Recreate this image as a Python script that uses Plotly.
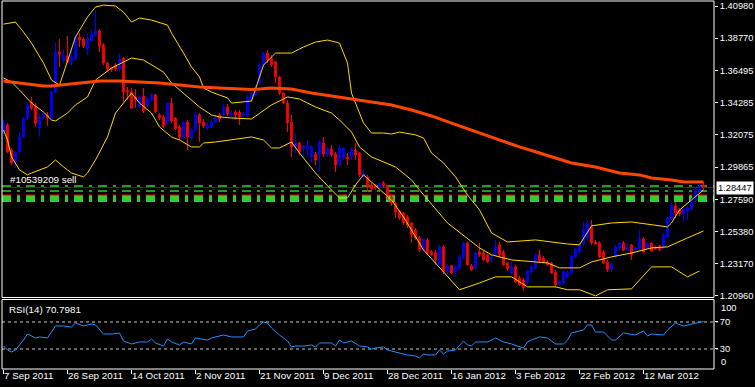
import plotly.graph_objects as go

# ---------------- data ----------------
TICK_BARS = [0, 16, 32, 48, 64, 80, 96, 112, 128, 144, 160]
TICK_LABELS = ["7 Sep 2011", "26 Sep 2011", "14 Oct 2011", "2 Nov 2011", "21 Nov 2011",
               "9 Dec 2011", "28 Dec 2011", "16 Jan 2012", "3 Feb 2012", "22 Feb 2012",
               "12 Mar 2012"]

PRICE_TICKS = [1.40980, 1.38770, 1.36495, 1.34285, 1.32075, 1.29865, 1.27590, 1.25380, 1.23170, 1.20960]
PRICE_TICK_LABELS = ["1.40980", "1.38770", "1.36495", "1.34285", "1.32075", "1.29865",
                     "1.27590", "1.25380", "1.23170", "1.20960"]

opens = [1.3228, 1.3276, 1.3104, 1.3021, 1.3090, 1.3194, 1.3325, 1.3435, 1.3401, 1.3256,
         1.3332, 1.3346, 1.3325, 1.3504, 1.3780, 1.3725, 1.3752, 1.3711, 1.3732, 1.3884,
         1.3870, 1.3801, 1.3856, 1.3898, 1.3925, 1.3829, 1.3704, 1.3670, 1.3690, 1.3663,
         1.3739, 1.3518, 1.3504, 1.3470, 1.3401, 1.3477, 1.3415, 1.3449, 1.3484, 1.3346,
         1.3332, 1.3290, 1.3428, 1.3325, 1.3263, 1.3194, 1.3297, 1.3187, 1.3242, 1.3346,
         1.3297, 1.3256, 1.3263, 1.3297, 1.3346, 1.3346, 1.3401, 1.3346, 1.3366, 1.3366,
         1.3339, 1.3346, 1.3449, 1.3484, 1.3566, 1.3690, 1.3773, 1.3739, 1.3711, 1.3608,
         1.3497, 1.3428, 1.3297, 1.3125, 1.3152, 1.3118, 1.3111, 1.3056, 1.3076, 1.3070,
         1.3152, 1.3070, 1.3111, 1.3076, 1.3000, 1.3056, 1.3056, 1.3056, 1.3104, 1.3083,
         1.2918, 1.2918, 1.2863, 1.2863, 1.2849, 1.2876, 1.2856, 1.2780, 1.2738, 1.2683,
         1.2669, 1.2642, 1.2600, 1.2552, 1.2497, 1.2414, 1.2483, 1.2400, 1.2393, 1.2311,
         1.2435, 1.2262, 1.2304, 1.2262, 1.2290, 1.2366, 1.2462, 1.2304, 1.2290, 1.2400,
         1.2393, 1.2380, 1.2345, 1.2380, 1.2449, 1.2400, 1.2324, 1.2255, 1.2297, 1.2221,
         1.2207, 1.2186, 1.2262, 1.2290, 1.2380, 1.2359, 1.2331, 1.2324, 1.2262, 1.2179,
         1.2186, 1.2228, 1.2255, 1.2366, 1.2400, 1.2455, 1.2497, 1.2573, 1.2469, 1.2462,
         1.2400, 1.2331, 1.2276, 1.2366, 1.2428, 1.2462, 1.2414, 1.2449, 1.2414, 1.2421,
         1.2490, 1.2428, 1.2462, 1.2435, 1.2442, 1.2428, 1.2504, 1.2628, 1.2718, 1.2690,
         1.2662, 1.2683, 1.2697, 1.2759, 1.2814, 1.2863]
highs = [1.3311, 1.3290, 1.3118, 1.3097, 1.3228, 1.3332, 1.3435, 1.3470, 1.3428, 1.3359,
         1.3380, 1.3366, 1.3518, 1.3849, 1.3870, 1.3794, 1.3891, 1.3794, 1.3898, 1.3911,
         1.3884, 1.3911, 1.3932, 1.4070, 1.3939, 1.3842, 1.3711, 1.3677, 1.3704, 1.3773,
         1.3746, 1.3539, 1.3532, 1.3525, 1.3484, 1.3532, 1.3470, 1.3497, 1.3490, 1.3359,
         1.3346, 1.3435, 1.3463, 1.3332, 1.3276, 1.3304, 1.3311, 1.3256, 1.3366, 1.3359,
         1.3318, 1.3297, 1.3318, 1.3346, 1.3359, 1.3421, 1.3421, 1.3380, 1.3380, 1.3380,
         1.3366, 1.3484, 1.3504, 1.3552, 1.3704, 1.3780, 1.3794, 1.3759, 1.3718, 1.3615,
         1.3504, 1.3449, 1.3346, 1.3221, 1.3159, 1.3139, 1.3173, 1.3139, 1.3090, 1.3173,
         1.3194, 1.3125, 1.3139, 1.3090, 1.3139, 1.3125, 1.3083, 1.3125, 1.3152, 1.3090,
         1.2966, 1.2932, 1.2876, 1.2870, 1.2883, 1.2890, 1.2863, 1.2794, 1.2745, 1.2690,
         1.2676, 1.2656, 1.2607, 1.2566, 1.2511, 1.2497, 1.2497, 1.2414, 1.2414, 1.2449,
         1.2449, 1.2317, 1.2311, 1.2311, 1.2380, 1.2469, 1.2469, 1.2317, 1.2400, 1.2462,
         1.2407, 1.2387, 1.2380, 1.2483, 1.2469, 1.2414, 1.2331, 1.2331, 1.2311, 1.2235,
         1.2221, 1.2276, 1.2311, 1.2393, 1.2414, 1.2373, 1.2345, 1.2331, 1.2276, 1.2207,
         1.2276, 1.2269, 1.2380, 1.2428, 1.2462, 1.2607, 1.2621, 1.2621, 1.2483, 1.2476,
         1.2414, 1.2345, 1.2331, 1.2449, 1.2469, 1.2476, 1.2462, 1.2455, 1.2435, 1.2552,
         1.2504, 1.2469, 1.2469, 1.2442, 1.2449, 1.2531, 1.2642, 1.2738, 1.2745, 1.2704,
         1.2711, 1.2718, 1.2773, 1.2842, 1.2870, 1.2883]
lows = [1.3214, 1.3083, 1.3000, 1.2980, 1.3076, 1.3187, 1.3311, 1.3380, 1.3263, 1.3194,
        1.3311, 1.3270, 1.3311, 1.3497, 1.3677, 1.3704, 1.3704, 1.3690, 1.3725, 1.3815,
        1.3808, 1.3759, 1.3849, 1.3884, 1.3780, 1.3690, 1.3642, 1.3642, 1.3649, 1.3642,
        1.3435, 1.3449, 1.3387, 1.3394, 1.3394, 1.3359, 1.3401, 1.3442, 1.3359, 1.3311,
        1.3256, 1.3276, 1.3290, 1.3242, 1.3173, 1.3173, 1.3104, 1.3173, 1.3228, 1.3159,
        1.3256, 1.3242, 1.3256, 1.3290, 1.3297, 1.3339, 1.3339, 1.3332, 1.3311, 1.3276,
        1.3325, 1.3332, 1.3435, 1.3477, 1.3552, 1.3684, 1.3704, 1.3677, 1.3566, 1.3484,
        1.3421, 1.3228, 1.3056, 1.3083, 1.3070, 1.3056, 1.3056, 1.3014, 1.3000, 1.2952,
        1.3056, 1.3056, 1.3056, 1.2952, 1.2987, 1.3035, 1.3000, 1.3035, 1.3035, 1.2918,
        1.2897, 1.2814, 1.2814, 1.2828, 1.2842, 1.2842, 1.2759, 1.2718, 1.2635, 1.2621,
        1.2586, 1.2566, 1.2462, 1.2483, 1.2400, 1.2400, 1.2380, 1.2373, 1.2311, 1.2304,
        1.2248, 1.2248, 1.2248, 1.2228, 1.2276, 1.2352, 1.2304, 1.2269, 1.2276, 1.2366,
        1.2338, 1.2324, 1.2331, 1.2373, 1.2366, 1.2304, 1.2269, 1.2242, 1.2186, 1.2166,
        1.2131, 1.2173, 1.2248, 1.2276, 1.2331, 1.2324, 1.2304, 1.2248, 1.2152, 1.2166,
        1.2173, 1.2214, 1.2242, 1.2359, 1.2387, 1.2442, 1.2483, 1.2449, 1.2449, 1.2359,
        1.2317, 1.2262, 1.2262, 1.2359, 1.2414, 1.2407, 1.2407, 1.2345, 1.2407, 1.2414,
        1.2393, 1.2421, 1.2400, 1.2414, 1.2407, 1.2421, 1.2497, 1.2621, 1.2635, 1.2649,
        1.2607, 1.2621, 1.2683, 1.2745, 1.2807, 1.2828]
closes = [1.3297, 1.3090, 1.3014, 1.3090, 1.3194, 1.3325, 1.3415, 1.3394, 1.3290, 1.3332,
          1.3352, 1.3325, 1.3504, 1.3780, 1.3766, 1.3759, 1.3711, 1.3746, 1.3884, 1.3863,
          1.3822, 1.3870, 1.3904, 1.3925, 1.3822, 1.3704, 1.3663, 1.3656, 1.3663, 1.3732,
          1.3504, 1.3504, 1.3394, 1.3449, 1.3470, 1.3373, 1.3456, 1.3484, 1.3366, 1.3325,
          1.3263, 1.3428, 1.3304, 1.3249, 1.3194, 1.3297, 1.3194, 1.3242, 1.3346, 1.3290,
          1.3270, 1.3276, 1.3297, 1.3332, 1.3318, 1.3401, 1.3352, 1.3359, 1.3346, 1.3332,
          1.3352, 1.3470, 1.3497, 1.3539, 1.3690, 1.3773, 1.3725, 1.3690, 1.3608, 1.3497,
          1.3428, 1.3290, 1.3125, 1.3152, 1.3090, 1.3132, 1.3132, 1.3125, 1.3035, 1.3159,
          1.3076, 1.3111, 1.3070, 1.3000, 1.3118, 1.3118, 1.3042, 1.3104, 1.3070, 1.2932,
          1.2939, 1.2849, 1.2835, 1.2842, 1.2876, 1.2856, 1.2780, 1.2738, 1.2676, 1.2635,
          1.2600, 1.2586, 1.2518, 1.2497, 1.2414, 1.2490, 1.2393, 1.2380, 1.2345, 1.2435,
          1.2262, 1.2304, 1.2255, 1.2297, 1.2366, 1.2462, 1.2311, 1.2276, 1.2393, 1.2380,
          1.2345, 1.2331, 1.2366, 1.2435, 1.2380, 1.2311, 1.2283, 1.2297, 1.2193, 1.2173,
          1.2152, 1.2269, 1.2297, 1.2380, 1.2338, 1.2331, 1.2311, 1.2255, 1.2173, 1.2193,
          1.2262, 1.2255, 1.2373, 1.2421, 1.2455, 1.2559, 1.2600, 1.2462, 1.2455, 1.2366,
          1.2324, 1.2276, 1.2317, 1.2435, 1.2462, 1.2414, 1.2435, 1.2380, 1.2428, 1.2490,
          1.2400, 1.2462, 1.2407, 1.2421, 1.2414, 1.2518, 1.2635, 1.2724, 1.2669, 1.2662,
          1.2697, 1.2704, 1.2759, 1.2828, 1.2856, 1.28447]

# Bollinger bands (bar index -> price)
bb_upper_bars = [0, 3, 5, 7, 10, 12, 14, 16, 18, 21, 23, 25, 28, 30, 32, 34, 37, 41, 42, 45,
                 47, 49, 50, 52, 56, 57, 62, 65, 68, 72, 75, 78, 81, 84, 86, 87, 90, 92, 95, 97,
                 99, 103, 105, 107, 110, 113, 116, 119, 122, 126, 133, 141, 144, 147, 152, 157,
                 161, 166, 167, 169, 172, 175]
bb_upper = [1.3973, 1.3987, 1.3918, 1.3842, 1.3704, 1.3587, 1.3552, 1.3725, 1.3884, 1.4022,
            1.4091, 1.4104, 1.4098, 1.4056, 1.3987, 1.4015, 1.4001, 1.3966, 1.3911, 1.3773,
            1.3677, 1.3608, 1.3532, 1.3504, 1.3463, 1.3428, 1.3442, 1.3690, 1.3773, 1.3773,
            1.3815, 1.3849, 1.3863, 1.3842, 1.3704, 1.3497, 1.3290, 1.3221, 1.3221, 1.3214,
            1.3228, 1.3208, 1.3187, 1.3083, 1.3014, 1.2918, 1.2793, 1.2690, 1.2531, 1.2469,
            1.2483, 1.2455, 1.2449, 1.2580, 1.2600, 1.2607, 1.2594, 1.2573, 1.2600, 1.2690,
            1.2759, 1.2828]
bb_mid_bars = [0, 2, 4, 7, 10, 12, 13, 16, 18, 21, 23, 27, 30, 32, 35, 37, 40, 42, 46, 49,
               52, 54, 57, 62, 67, 71, 74, 78, 82, 84, 87, 89, 92, 95, 98, 102, 104, 111, 119,
               122, 127, 136, 139, 144, 147, 152, 157, 162, 166, 171, 175]
bb_mid = [1.3601, 1.3573, 1.3518, 1.3428, 1.3366, 1.3311, 1.3304, 1.3359, 1.3415, 1.3470,
          1.3587, 1.3670, 1.3711, 1.3739, 1.3725, 1.3690, 1.3642, 1.3566, 1.3470, 1.3401,
          1.3346, 1.3332, 1.3325, 1.3318, 1.3415, 1.3470, 1.3456, 1.3401, 1.3359, 1.3311,
          1.3228, 1.3125, 1.3056, 1.3021, 1.2987, 1.2897, 1.2828, 1.2600, 1.2428, 1.2380,
          1.2345, 1.2324, 1.2290, 1.2290, 1.2331, 1.2366, 1.2393, 1.2428, 1.2435, 1.2497,
          1.2545]
bb_lower_bars = [0, 1, 2, 4, 6, 7, 11, 13, 15, 17, 20, 21, 23, 26, 28, 31, 32, 34, 37, 39,
                 42, 44, 47, 49, 50, 53, 57, 62, 65, 67, 69, 72, 74, 78, 82, 84, 86, 88, 90, 92,
                 95, 97, 100, 105, 110, 114, 119, 123, 127, 131, 138, 141, 144, 148, 151, 157,
                 162, 167, 171, 174]
bb_lower = [1.3242, 1.3173, 1.3056, 1.2966, 1.2932, 1.2945, 1.2987, 1.3035, 1.2987, 1.2945,
            1.2918, 1.2945, 1.3035, 1.3194, 1.3359, 1.3463, 1.3497, 1.3428, 1.3359, 1.3263,
            1.3194, 1.3173, 1.3125, 1.3125, 1.3152, 1.3159, 1.3173, 1.3194, 1.3173, 1.3118,
            1.3118, 1.3159, 1.3083, 1.2945, 1.2828, 1.2773, 1.2773, 1.2863, 1.2932, 1.2883,
            1.2807, 1.2759, 1.2642, 1.2414, 1.2262, 1.2139, 1.2186, 1.2228, 1.2228, 1.2159,
            1.2159, 1.2139, 1.2139, 1.2097, 1.2139, 1.2145, 1.2297, 1.2297, 1.2228, 1.2269]

# long moving average
ma_bars = [0, 4, 10, 12, 16, 19, 24, 29, 34, 39, 44, 49, 54, 62, 67, 72, 77, 82, 87, 92,
           97, 102, 107, 112, 117, 122, 129, 134, 139, 142, 148, 154, 159, 162, 167, 170, 175]
ma_vals = [1.3580, 1.3566, 1.3546, 1.3546, 1.3559, 1.3566, 1.3580, 1.3580, 1.3573, 1.3566,
           1.3552, 1.3539, 1.3532, 1.3521, 1.3532, 1.3525, 1.3497, 1.3477, 1.3456, 1.3435,
           1.3415, 1.3380, 1.3339, 1.3290, 1.3242, 1.3194, 1.3125, 1.3083, 1.3042, 1.3014,
           1.2987, 1.2945, 1.2932, 1.2911, 1.2897, 1.2883, 1.2883]

# RSI(14)
rsi_bars = [0, 1, 2, 3, 5, 6, 8, 9, 11, 13, 15, 17, 18, 20, 22, 23, 25, 27, 29, 30,
            32, 34, 36, 37, 38, 40, 41, 42, 44, 45, 47, 48, 51, 52, 55, 57, 60, 61, 63, 64,
            65, 66, 67, 69, 71, 72, 73, 75, 77, 78, 79, 80, 82, 83, 84, 85, 87, 89, 91, 92,
            93, 95, 96, 97, 99, 101, 103, 104, 105, 106, 108, 109, 110, 111, 113, 114, 115, 116, 117, 118,
            121, 123, 125, 127, 130, 131, 132, 134, 136, 138, 140, 141, 142, 144, 145, 146, 147, 148, 150, 152,
            153, 155, 157, 158, 160, 161, 162, 165, 166, 168, 170, 171, 173, 175]
rsi_vals = [34.4, 28.5, 25.6, 28.5, 43.3, 52.2, 46.3, 47.8, 46.3, 64.1, 64.1, 62.6, 68.5, 64.1, 67.0, 65.6, 52.2, 52.2, 53.7, 41.9,
            37.4, 40.4, 40.4, 44.8, 38.9, 34.4, 44.8, 40.4, 35.9, 40.4, 37.4, 46.3, 43.3, 46.3, 50.7, 47.8, 47.8, 56.7, 59.6, 65.6,
            70.0, 68.5, 61.1, 50.7, 41.9, 33.0, 34.4, 34.4, 35.9, 33.0, 38.9, 38.9, 38.9, 34.4, 43.3, 38.9, 41.9, 34.4, 33.0, 30.0,
            31.5, 33.0, 28.5, 27.0, 24.1, 21.1, 19.6, 16.7, 22.6, 21.1, 21.1, 28.5, 22.6, 27.0, 28.5, 35.9, 41.9, 35.9, 34.4, 40.4,
            40.4, 46.3, 40.4, 37.4, 31.5, 40.4, 43.3, 47.8, 46.3, 37.4, 37.4, 43.3, 53.7, 56.7, 58.1, 65.6, 65.6, 55.2, 55.2, 43.3,
            43.3, 53.7, 52.2, 50.7, 56.7, 49.3, 52.2, 50.7, 58.1, 68.5, 64.1, 65.6, 68.5, 70.7981]
RSI_LEVELS = [70, 30]

# order lines
ORDER_LABEL = "#10539209 sell"
ORDER_OPEN = 1.2769
ORDER_STOP = 1.2793
ORDER_LEVEL_A = 1.2855
ORDER_LEVEL_B = 1.2821
BID = 1.28447

# ---------------- figure ----------------
FONT = "Liberation Sans, Arial, sans-serif"
FS = 9.3
BLUE = "#0000FF"
RED = "#FF0000"
GOLD = "#FFD700"
MA_COL = "#FF4500"
GREEN = "#32CD32"

MAIN_DOM = [0.1943, 1.0]
RSI_DOM = [0.0, 0.1889]

x = list(range(len(closes)))

fig = go.Figure()
fig.add_trace(go.Candlestick(
    x=x, open=opens, high=highs, low=lows, close=closes,
    increasing=dict(line=dict(color=BLUE, width=1), fillcolor=BLUE),
    decreasing=dict(line=dict(color=RED, width=1), fillcolor=RED),
    whiskerwidth=0, xaxis="x", yaxis="y", hoverinfo="skip", showlegend=False))

for bars, vals in [(bb_upper_bars, bb_upper), (bb_mid_bars, bb_mid), (bb_lower_bars, bb_lower)]:
    fig.add_trace(go.Scatter(x=bars, y=vals, mode="lines", line=dict(color=GOLD, width=1),
                             xaxis="x", yaxis="y", hoverinfo="skip", showlegend=False))

fig.add_trace(go.Scatter(x=ma_bars, y=ma_vals, mode="lines", line=dict(color=MA_COL, width=3),
                         xaxis="x", yaxis="y", hoverinfo="skip", showlegend=False))

fig.add_trace(go.Scatter(x=rsi_bars, y=rsi_vals, mode="lines", line=dict(color="#1E90FF", width=1),
                         xaxis="x", yaxis="y2", hoverinfo="skip", showlegend=False))

DASHDOT = "9px,6px,3px,6px"
shapes = []
shapes.append(dict(type="line", xref="paper", x0=0, x1=1, yref="y", y0=ORDER_OPEN, y1=ORDER_OPEN,
                   line=dict(color=GREEN, width=7, dash=DASHDOT), layer="below"))
shapes.append(dict(type="line", xref="paper", x0=0, x1=1, yref="y", y0=ORDER_STOP, y1=ORDER_STOP,
                   line=dict(color=RED, width=1, dash=DASHDOT), layer="below"))
for lv in [ORDER_LEVEL_A, ORDER_LEVEL_B]:
    shapes.append(dict(type="line", xref="paper", x0=0, x1=1, yref="y", y0=lv, y1=lv,
                       line=dict(color=GREEN, width=1.5, dash=DASHDOT), layer="below"))
shapes.append(dict(type="line", xref="paper", x0=0, x1=1, yref="y", y0=BID, y1=BID,
                   line=dict(color="#22304C", width=1), layer="below"))
for lv in RSI_LEVELS:
    shapes.append(dict(type="line", xref="paper", x0=0, x1=1.006, yref="y2", y0=lv, y1=lv,
                       line=dict(color="#C8C8C8", width=1, dash="3px,3px"), layer="below"))
shapes.append(dict(type="rect", xref="paper", yref="paper", x0=0, x1=1, y0=MAIN_DOM[0], y1=MAIN_DOM[1],
                   line=dict(color="white", width=1)))
shapes.append(dict(type="rect", xref="paper", yref="paper", x0=0, x1=1, y0=RSI_DOM[0], y1=RSI_DOM[1],
                   line=dict(color="white", width=1)))

annotations = [
    dict(xref="paper", x=0.0085, xanchor="left", yref="y", y=1.2897, yanchor="middle",
         text=ORDER_LABEL, showarrow=False, font=dict(family=FONT, size=FS + 0.5, color="white")),
    dict(xref="paper", x=0.007, xanchor="left", yref="y2", y=87.8, yanchor="middle",
         text="RSI(14) " + f"{rsi_vals[-1]:.4f}", showarrow=False,
         font=dict(family=FONT, size=FS + 0.5, color="white")),
    dict(xref="paper", x=1, xanchor="left", xshift=2, yref="y", y=BID, yanchor="middle",
         text=f"{BID:.5f}", showarrow=False, bgcolor="white", borderpad=1,
         font=dict(family=FONT, size=FS, color="black")),
    dict(xref="paper", x=1, xanchor="left", xshift=5, yref="y2", y=101, yanchor="top",
         text="100", showarrow=False, font=dict(family=FONT, size=FS, color="white")),
    dict(xref="paper", x=1, xanchor="left", xshift=5, yref="y2", y=0.5, yanchor="bottom",
         text="0", showarrow=False, font=dict(family=FONT, size=FS, color="white")),
]

fig.update_layout(
    width=755, height=387,
    margin=dict(l=2, r=41, t=1, b=18),
    paper_bgcolor="black", plot_bgcolor="black",
    font=dict(family=FONT, size=FS, color="white"),
    showlegend=False, boxgap=0.4,
    shapes=shapes, annotations=annotations,
    xaxis=dict(domain=[0, 1], anchor="y2", range=[-0.375, 177.625],
               tickmode="array", tickvals=TICK_BARS, ticktext=TICK_LABELS,
               ticks="outside", ticklen=4, tickcolor="white", ticklabelposition="outside right",
               tickangle=0, ticklabelstandoff=-3,
               showgrid=False, zeroline=False, showline=False, rangeslider=dict(visible=False),
               automargin=False, tickfont=dict(family=FONT, size=FS + 0.5, color="white"), fixedrange=True),
    yaxis=dict(domain=MAIN_DOM, anchor="x", side="right", range=[1.20856, 1.41325],
               tickmode="array", tickvals=PRICE_TICKS, ticktext=PRICE_TICK_LABELS,
               ticks="outside", ticklen=3, tickcolor="white",
               showgrid=False, zeroline=False, showline=False, automargin=False,
               tickfont=dict(family=FONT, size=FS, color="white")),
    yaxis2=dict(domain=RSI_DOM, anchor="x", side="right", range=[0.37, 103.3],
                tickmode="array", tickvals=RSI_LEVELS, ticktext=[str(v) for v in RSI_LEVELS],
                ticks="outside", ticklen=3, tickcolor="white",
                showgrid=False, zeroline=False, showline=False, automargin=False,
                tickfont=dict(family=FONT, size=FS, color="white")),
)

fig.write_html("out.html", config={"displayModeBar": False},
               post_script="document.body.style.margin='0px';document.body.style.background='black';")
